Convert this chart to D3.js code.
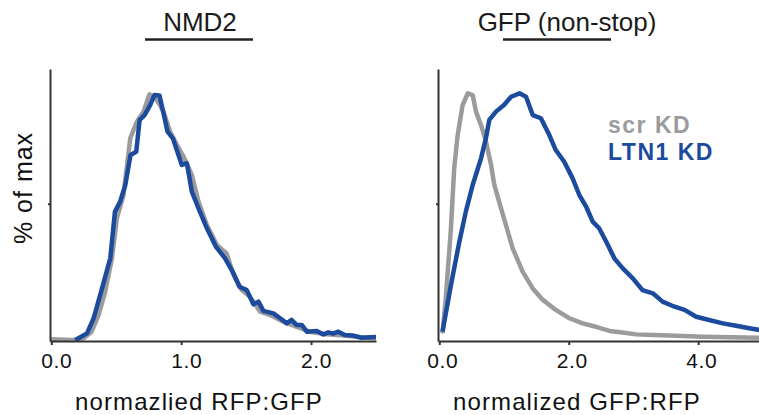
<!DOCTYPE html>
<meta charset="utf-8">
<style>
body { margin: 0; background: #fff; }
svg text { font-family: "Liberation Sans", Arial, Helvetica, sans-serif; }
.axis path, .axis line { stroke: #333; stroke-width: 2px; }
.axis text { fill: #111; font-size: 21px; letter-spacing: 0.6px; }
</style>
<body>
<script src="https://d3js.org/d3.v7.min.js"></script>
<script>

// NMD2 panel, x = normalized RFP:GFP, y = % of max
var nmdScrX = [0, 0.17, 0.25, 0.31, 0.364, 0.415, 0.467, 0.505, 0.556, 0.608, 0.659, 0.71, 0.756, 0.813, 0.864, 0.915, 0.967, 1.018, 1.082, 1.133, 1.198, 1.275, 1.35, 1.403, 1.467, 1.53, 1.608, 1.685, 1.787, 1.89, 1.99, 2.12, 2.25, 2.377, 2.5];
var nmdScrY = [0.3, 0, 0.7, 3.4, 10.2, 19.8, 33.4, 49.8, 59.3, 82.5, 89.3, 93.4, 100.5, 98.2, 93.4, 85.2, 79.8, 75, 67.5, 56.6, 47, 38.9, 35.4, 26.6, 20.4, 17.7, 11.6, 10.2, 7.5, 5.4, 3.4, 2.3, 1.8, 1.1, 0.7];
var nmdLtnX = [0.185, 0.275, 0.326, 0.39, 0.454, 0.49, 0.53, 0.57, 0.61, 0.654, 0.68, 0.718, 0.76, 0.795, 0.833, 0.864, 0.895, 0.936, 1.005, 1.044, 1.082, 1.133, 1.198, 1.267, 1.338, 1.397, 1.449, 1.505, 1.556, 1.595, 1.633, 1.71, 1.762, 1.813, 1.85, 1.89, 1.93, 1.967, 2.044, 2.095, 2.133, 2.17, 2.21, 2.26, 2.326, 2.39, 2.5];
var nmdLtnY = [0, 2.7, 8.9, 21, 33.4, 52.5, 56.6, 63.4, 75.7, 77, 90, 92, 96, 100.2, 100, 92.7, 85.2, 82.5, 71.6, 72.3, 60.7, 53.9, 45.7, 38.2, 33.4, 27.9, 21.8, 20.4, 14.6, 15.7, 11.9, 10.9, 8.9, 6.8, 8.2, 6.1, 6.1, 3.4, 3.7, 2.3, 3.1, 2.6, 3.4, 2.0, 1.8, 0.9, 1.2];

// GFP (non-stop) panel, x = normalized GFP:RFP
var gfpScrX = [0.05, 0.10, 0.18, 0.23, 0.284, 0.36, 0.44, 0.516, 0.567, 0.645, 0.722, 0.8, 0.85, 0.953, 1.03, 1.134, 1.29, 1.444, 1.6, 1.8, 2.01, 2.216, 2.42, 2.63, 2.83, 3.04, 3.3, 3.555, 4.07, 4.95];
var gfpScrY = [2.7, 17, 45.7, 70.2, 83.8, 96.1, 100.9, 100.2, 93.4, 87.9, 81.1, 71.6, 63.4, 53.9, 47, 37.5, 27.9, 21.1, 16.4, 12.3, 8.9, 6.8, 5.4, 3.7, 3.1, 2.3, 2.0, 1.8, 1.3, 0.9];
var gfpLtnX = [0.05, 0.18, 0.31, 0.41, 0.516, 0.645, 0.72, 0.773, 0.876, 1.0, 1.11, 1.24, 1.34, 1.444, 1.57, 1.70, 1.8, 1.93, 2.06, 2.164, 2.27, 2.37, 2.47, 2.58, 2.705, 2.835, 2.99, 3.14, 3.3, 3.45, 3.6, 3.79, 3.97, 4.17, 4.38, 4.586, 4.79, 4.95];
var gfpLtnY = [3.4, 22.5, 40.2, 52.5, 63.4, 74.3, 82.5, 90, 93.4, 96.1, 99.5, 100.9, 99.5, 92, 90.7, 83.8, 77.7, 72.9, 66.1, 59.3, 54.5, 48.4, 45.7, 40.2, 33.4, 29.3, 25.2, 20.4, 19.1, 15.7, 14, 12.3, 9.5, 8.2, 6.8, 5.8, 4.8, 4.1];

var nmdTicks = [0, 1, 2];
var gfpTicks = [0, 2, 4];
var tickFmt = d3.format(".1f");

var legendNames = ["scr KD", "LTN1 KD"];
var colors = ["#9b9b9d", "#1c4b9e"];

var svg = d3.select("body").append("svg")
    .attr("width", 759)
    .attr("height", 415);

var y = d3.scaleLinear().domain([0, 100]).range([340, 95.5]);

function zip(xs, ys) {
  return xs.map(function(d, i) { return [d, ys[i]]; });
}

function panel(opt) {
  var x = d3.scaleLinear().domain(opt.domain).range(opt.range);
  var g = svg.append("g");

  var clipId = "clip" + opt.range[0];
  svg.append("clipPath").attr("id", clipId)
    .append("rect")
      .attr("x", opt.range[0]).attr("y", 0)
      .attr("width", opt.range[1] - opt.range[0]).attr("height", 345);

  var line = d3.line()
      .x(function(d) { return x(d[0]); })
      .y(function(d) { return y(d[1]); });

  opt.series.forEach(function(s, i) {
    g.append("path")
      .datum(s)
      .attr("clip-path", "url(#" + clipId + ")")
      .attr("fill", "none")
      .attr("stroke", colors[i])
      .attr("stroke-width", 4.5)
      .attr("stroke-linejoin", "round")
      .attr("d", line);
  });

  // x axis
  var xa = g.append("g")
    .attr("class", "axis")
    .attr("transform", "translate(0,341)")
    .call(d3.axisBottom(x).tickValues(opt.ticks).tickFormat(tickFmt).tickSize(4).tickSizeOuter(0));
  xa.selectAll("text").attr("dy", "0.95em").attr("dx", opt.dx);

  // y axis
  g.append("g")
    .attr("class", "axis")
    .attr("transform", "translate(" + opt.range[0] + ",0)")
    .call(d3.axisLeft(d3.scaleLinear().domain([0, 111]).range([341, 69])).tickValues([56]).tickFormat("").tickSize(2).tickSizeOuter(0));

  // title with underline
  svg.append("text")
    .attr("x", opt.titleX).attr("y", 31)
    .attr("text-anchor", "middle")
    .style("font-size", "26px")
    .style("fill", "#1a1a1a")
    .text(opt.title);
  svg.append("line")
    .attr("x1", opt.bar[0]).attr("x2", opt.bar[1])
    .attr("y1", 39.5).attr("y2", 39.5)
    .attr("stroke", "#222").attr("stroke-width", 2.5);

  svg.append("text")
    .attr("x", opt.labelX).attr("y", 410)
    .attr("text-anchor", "middle")
    .style("font-size", "24px")
    .style("letter-spacing", "1.1px")
    .style("fill", "#111")
    .text(opt.label);
}

panel({
  domain: [-0.01, 2.5], range: [50, 376], ticks: nmdTicks, dx: 5,
  series: [zip(nmdScrX, nmdScrY), zip(nmdLtnX, nmdLtnY)],
  title: "NMD2", titleX: 200, bar: [145, 253],
  label: "normazlied RFP:GFP", labelX: 199
});

panel({
  domain: [-0.02, 4.94], range: [438, 759], ticks: gfpTicks, dx: 3,
  series: [zip(gfpScrX, gfpScrY), zip(gfpLtnX, gfpLtnY)],
  title: "GFP (non-stop)", titleX: 567, bar: [503, 611],
  label: "normalized GFP:RFP", labelX: 577
});

// y label
svg.append("text")
  .attr("transform", "translate(32,188)rotate(-90)")
  .attr("text-anchor", "middle")
  .style("font-size", "25px")
  .style("letter-spacing", "1px")
  .style("fill", "#111")
  .text("% of max");

// legend
svg.selectAll(".legend")
  .data(legendNames)
  .enter().append("text")
    .attr("class", "legend")
    .attr("x", 608)
    .attr("y", function(d, i) { return 133 + i * 27; })
    .style("font-size", "23px")
    .style("font-weight", "bold")
    .style("letter-spacing", "1.5px")
    .style("fill", function(d, i) { return colors[i]; })
    .text(function(d) { return d; });

</script>
</body>
